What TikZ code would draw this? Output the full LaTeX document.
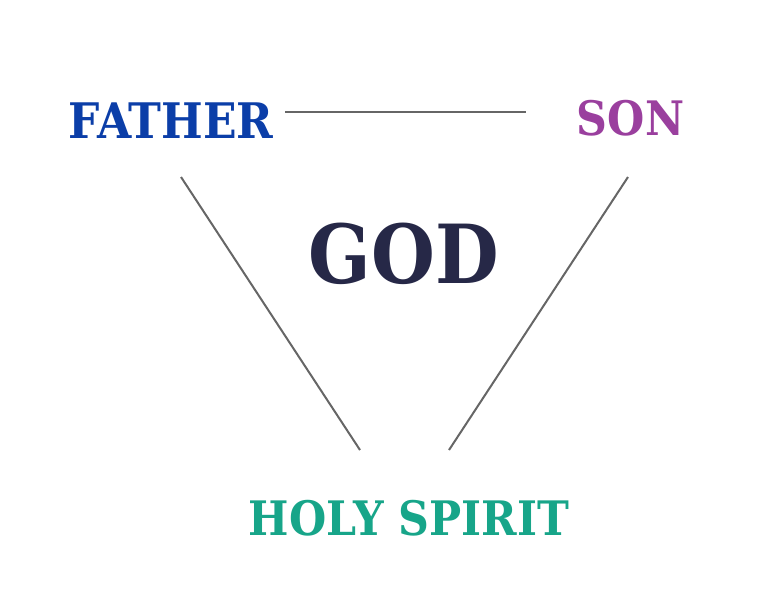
\documentclass[tikz,border=0pt]{standalone}
\usepackage{fontspec}
\setmainfont{DejaVu Serif Condensed}[BoldFont={DejaVu Serif Condensed Bold}]
\usepackage{tikz}
\definecolor{FatherColor}{HTML}{0B3EA8}
\definecolor{SonColor}{HTML}{9A3F9E}
\definecolor{GodColor}{HTML}{262847}
\definecolor{SpiritColor}{HTML}{17A589}
\definecolor{LinkColor}{HTML}{666666}
\tikzset{every node/.style={inner sep=0pt, text depth=0pt, font=\bfseries},
         link/.style={draw=LinkColor, line width=2pt}}

\begin{document}
\begin{tikzpicture}[x=1pt,y=-1pt]
\useasboundingbox (0,0) rectangle (770,600);

%% Names
\node[text=FatherColor, font=\fontsize{49}{49}\bfseries, text height=35.7pt] (father) at (171,120.5) {FATHER};
\node[text=SonColor, font=\fontsize{47.5}{48}\bfseries, text height=34.6pt] (son) at (630.5,118.5) {SON};
\node[text=GodColor, font=\fontsize{81.5}{82}\bfseries, text height=59.4pt] (god) at (403.5,253.5) {GOD};
\node[text=SpiritColor, font=\fontsize{47.5}{48}\bfseries, text height=34.6pt] (spirit) at (409,518) {HOLY SPIRIT};

%% Line ends
\coordinate (fs) at (285,112);
\coordinate (sf) at (526,112);
\coordinate (fh) at (181,177);
\coordinate (hf) at (360,450);
\coordinate (sh) at (628,177);
\coordinate (hs) at (449,450);

\draw[link] (fs) -- (sf);
\draw[link] (fh) -- (hf);
\draw[link] (sh) -- (hs);
\end{tikzpicture}
\end{document}
